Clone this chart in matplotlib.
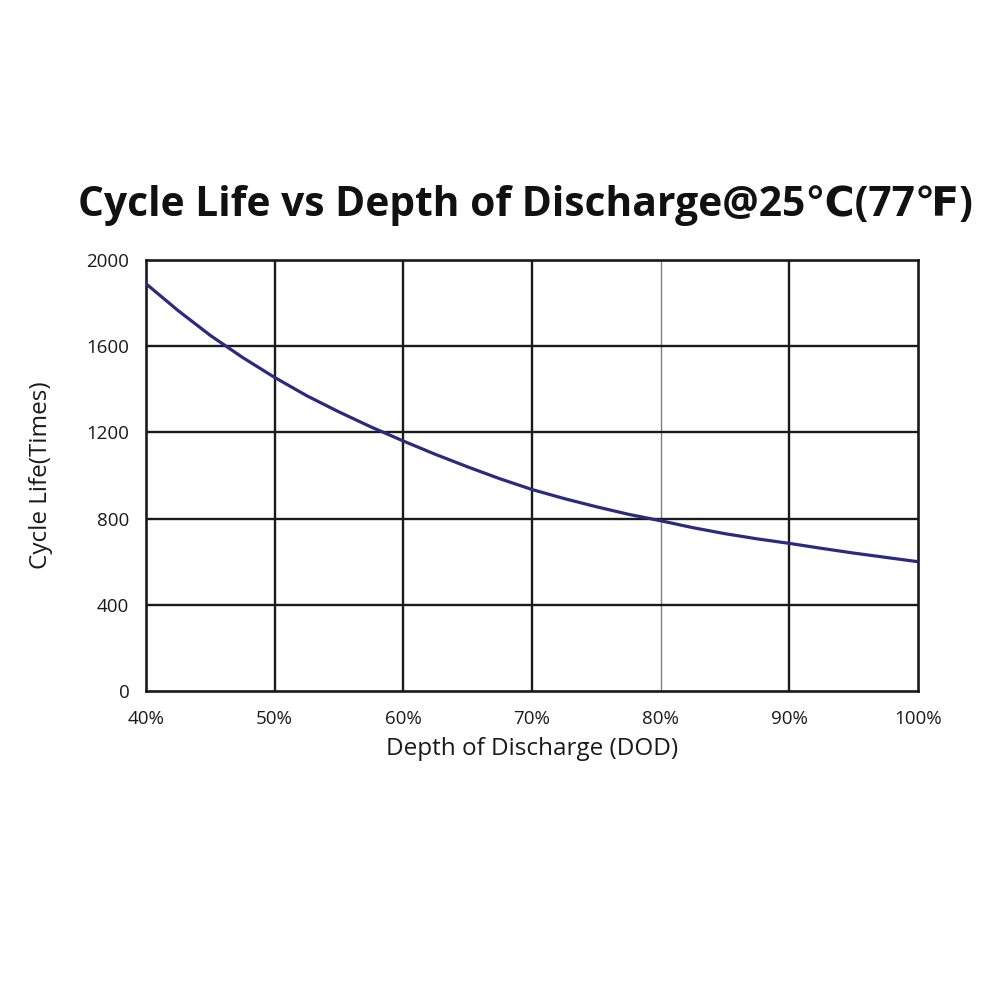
import matplotlib.pyplot as plt
import numpy as np

# Depth of discharge (%) and cycle life
dod = [40, 42.5, 45, 47.5, 50, 52.5, 55, 57.5, 60, 62.5, 65, 67.5, 70,
       72.5, 75, 77.5, 80, 82.5, 85, 87.5, 90, 92.5, 95, 97.5, 100]
cycles = [1890, 1765, 1650, 1548, 1455, 1370, 1295, 1225, 1160, 1098, 1040, 985, 935,
          893, 855, 820, 790, 758, 730, 706, 685, 662, 640, 620, 600]

x_ticks = [40, 50, 60, 70, 80, 90, 100]
y_ticks = [0, 400, 800, 1200, 1600, 2000]

plt.rcParams['font.family'] = ['Open Sans', 'DejaVu Sans']

fig = plt.figure(figsize=(10, 10), dpi=100)
ax = fig.add_axes([0.146, 0.309, 0.772, 0.431])

ax.plot(dod, cycles, color='#2b2a7e', linewidth=2.3, zorder=3)

ax.set_xlim(40, 100)
ax.set_ylim(0, 2000)
ax.set_xticks(x_ticks)
ax.set_xticklabels([f'{t}%' for t in x_ticks])
ax.set_yticks(y_ticks)

# grid: black lines, the 80% one is thin grey
for t in x_ticks[1:-1]:
    if t == 80:
        ax.axvline(t, color='#808080', linewidth=1.0, zorder=1)
    else:
        ax.axvline(t, color='#1a1a1a', linewidth=1.7, zorder=1)
for t in y_ticks[1:-1]:
    ax.axhline(t, color='#1a1a1a', linewidth=1.7, zorder=1)

for s in ax.spines.values():
    s.set_color('#1a1a1a')
    s.set_linewidth(1.9)

ax.tick_params(length=0, labelsize=13.5, colors='#1a1a1a')
ax.tick_params(axis='x', pad=14)
ax.tick_params(axis='y', pad=12)
ax.set_xlabel('Depth of Discharge (DOD)', fontsize=17.5, color='#1a1a1a', labelpad=6)
ax.set_ylabel('Cycle Life(Times)', fontsize=17.5, color='#1a1a1a', labelpad=24)

fig.text(0.525, 0.795, 'Cycle Life vs Depth of Discharge@25℃(77℉)',
         ha='center', va='center', fontsize=29.3, fontweight='bold', color='#111111')

fig.savefig('out.png', dpi=100, facecolor='white')
